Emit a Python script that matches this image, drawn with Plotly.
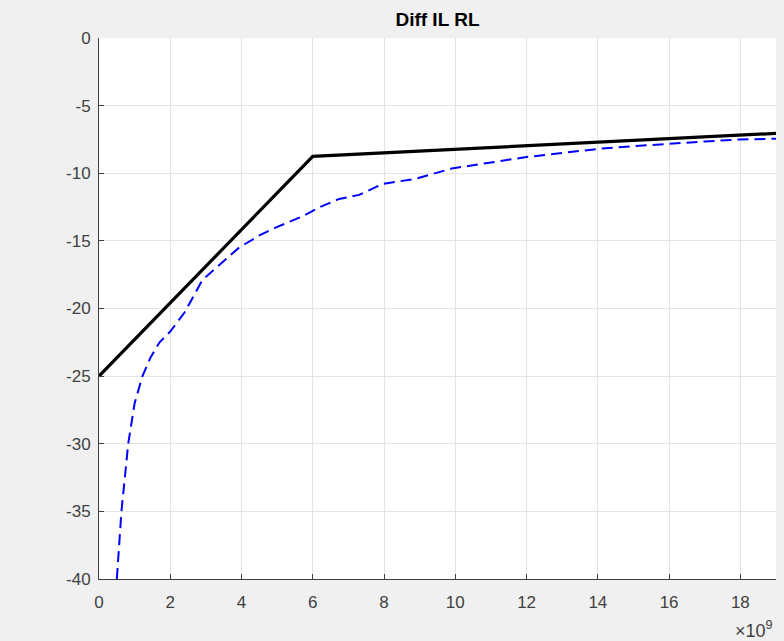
import plotly.graph_objects as go

# Reference (black solid) line
ref_freq = [0.0, 6.0e9, 19.0e9]
ref_db = [-25.0, -8.75, -7.05]

# Measured (blue dashed) curve
meas_freq = [0.5e9, 0.63e9, 0.82e9, 1.0e9, 1.22e9, 1.45e9, 1.7e9, 2.0e9, 2.4e9, 2.9e9, 3.37e9,
             3.93e9, 4.5e9, 4.97e9, 5.7e9, 6.2e9, 6.74e9, 7.3e9, 7.95e9, 8.9e9, 9.9e9,
             11.0e9, 12.0e9, 13.0e9, 14.0e9, 15.0e9, 16.0e9, 17.0e9, 18.0e9, 19.0e9]
meas_db = [-40.0, -35.0, -30.0, -27.0, -25.0, -23.6, -22.5, -21.7, -20.3, -17.9, -16.8,
           -15.5, -14.6, -14.0, -13.2, -12.5, -11.9, -11.6, -10.8, -10.4, -9.65,
           -9.2, -8.8, -8.5, -8.2, -8.0, -7.8, -7.65, -7.5, -7.45]

x_ticks = [0, 2e9, 4e9, 6e9, 8e9, 10e9, 12e9, 14e9, 16e9, 18e9]
x_tick_labels = ["0", "2", "4", "6", "8", "10", "12", "14", "16", "18"]
y_ticks = [0, -5, -10, -15, -20, -25, -30, -35, -40]
y_tick_labels = ["0", "-5", "-10", "-15", "-20", "-25", "-30", "-35", "-40"]

fig = go.Figure()
fig.add_trace(go.Scatter(x=meas_freq, y=meas_db, mode="lines",
                         line=dict(color="#0000ff", width=2, dash="11px,6px"),
                         showlegend=False))
fig.add_trace(go.Scatter(x=ref_freq, y=ref_db, mode="lines",
                         line=dict(color="#000000", width=3.2),
                         showlegend=False))

font_family = "Liberation Sans, Arial, sans-serif"
fig.update_layout(
    width=784, height=641,
    paper_bgcolor="#f0f0f0", plot_bgcolor="#ffffff",
    margin=dict(l=99, r=8, t=38, b=62, autoexpand=False),
    title=dict(text="<b>Diff IL RL</b>", x=0.558, xanchor="center", xref="container",
               y=1 - 19 / 641, yref="container", yanchor="middle",
               font=dict(family=font_family, size=19, color="#000000")),
    font=dict(family=font_family, size=17, color="#404040"),
)
fig.update_xaxes(range=[0, 19e9], tickvals=x_ticks, ticktext=x_tick_labels,
                 showgrid=True, gridcolor="#e3e3e3", gridwidth=1,
                 showline=True, linecolor="#404040", linewidth=1,
                 ticks="inside", ticklen=5, tickcolor="#404040",
                 ticklabelstandoff=8, automargin=False,
                 zeroline=False, mirror=False)
fig.update_yaxes(range=[-40, 0], tickvals=y_ticks, ticktext=y_tick_labels,
                 showgrid=True, gridcolor="#e3e3e3", gridwidth=1,
                 showline=True, linecolor="#404040", linewidth=1,
                 ticks="inside", ticklen=5, tickcolor="#404040",
                 ticklabelstandoff=4, automargin=False,
                 zeroline=False, mirror=False)
fig.add_annotation(text="×10<sup>9</sup>", xref="paper", yref="paper",
                   x=0.999, y=-0.094, xanchor="right", yanchor="middle",
                   showarrow=False, font=dict(family=font_family, size=18, color="#404040"))

fig.write_html("out.html", config={"displayModeBar": False},
               post_script="document.body.style.margin='0';document.body.style.background='#f0f0f0';")
